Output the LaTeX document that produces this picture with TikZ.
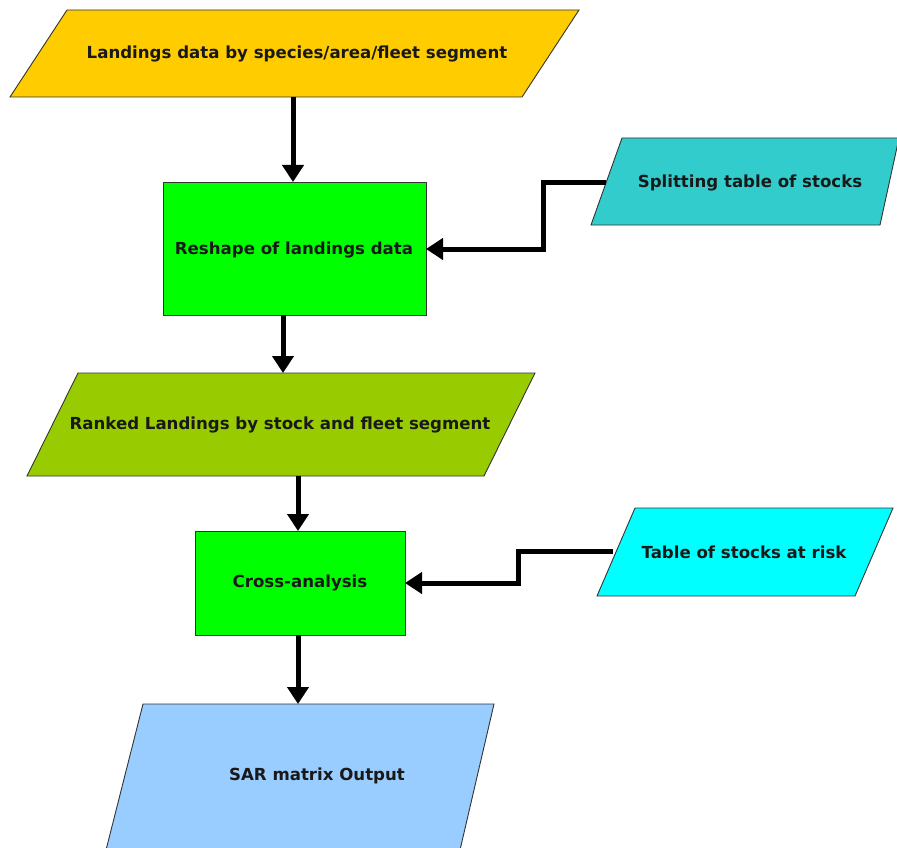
\documentclass[tikz,border=0pt]{standalone}
\usepackage{fontspec}
\setmainfont{DejaVu Sans}
\usetikzlibrary{arrows.meta}
\definecolor{cOrange}{HTML}{FFCC00}
\definecolor{cGreen}{HTML}{00FF00}
\definecolor{cTeal}{HTML}{33CCCC}
\definecolor{cOlive}{HTML}{99CC00}
\definecolor{cCyan}{HTML}{00FFFF}
\definecolor{cBlue}{HTML}{99CCFF}
\tikzset{
  shapeline/.style={draw=black!80, line width=0.9pt},
  lbl/.style={font=\bfseries\fontsize{16.6}{19}\selectfont, text=black!90},
  flow/.style={line width=5pt, -{Triangle[width=21pt,length=17pt]}},
}
\begin{document}
\begin{tikzpicture}[x=1pt,y=-1pt]
\useasboundingbox (0,0) rectangle (897,848);
% shapes
\draw[shapeline, fill=cOrange] (67,10) -- (579,10) -- (522,97) -- (10,97) -- cycle;
\draw[shapeline, fill=cGreen] (163,182) rectangle (426,315);
\draw[shapeline, fill=cTeal] (622,138) -- (899,138) -- (880,225) -- (591,225) -- cycle;
\draw[shapeline, fill=cOlive] (78,373) -- (535,373) -- (484,476) -- (27,476) -- cycle;
\draw[shapeline, fill=cGreen] (195,531) rectangle (405,635);
\draw[shapeline, fill=cCyan] (635,508) -- (893,508) -- (855,596) -- (597,596) -- cycle;
\draw[shapeline, fill=cBlue] (143,704) -- (494,704) -- (460,850) -- (106,850) -- cycle;
% labels
\node[lbl] (landings) at (297,54) {Landings data by species/area/fleet segment};
\node[lbl] (reshape) at (294,250) {Reshape of landings data};
\node[lbl] (split) at (750,183) {Splitting table of stocks};
\node[lbl] (ranked) at (280,425) {Ranked Landings by stock and fleet segment};
\node[lbl] (cross) at (300,583) {Cross-analysis};
\node[lbl] (risk) at (744,552) {Table of stocks at risk};
\node[lbl] (sar) at (317,776) {SAR matrix Output};
% connector anchors
\coordinate (a1s) at (293,97);  \coordinate (a1e) at (293,182);
\coordinate (a2s) at (283,315); \coordinate (a2e) at (283,373);
\coordinate (a3s) at (298,476); \coordinate (a3e) at (298,531);
\coordinate (a4s) at (298,635); \coordinate (a4e) at (298,704);
\coordinate (splitL) at (606,182); \coordinate (reshR) at (426,249);
\coordinate (riskL) at (613,551);  \coordinate (crossR) at (405,583);
% connectors
\draw[flow] (a1s) -- (a1e);
\draw[flow] (a2s) -- (a2e);
\draw[flow] (a3s) -- (a3e);
\draw[flow] (a4s) -- (a4e);
\draw[flow] (splitL) -- (543,182) -- (543,249) -- (reshR);
\draw[flow] (riskL) -- (518,551) -- (518,583) -- (crossR);
\end{tikzpicture}
\end{document}
